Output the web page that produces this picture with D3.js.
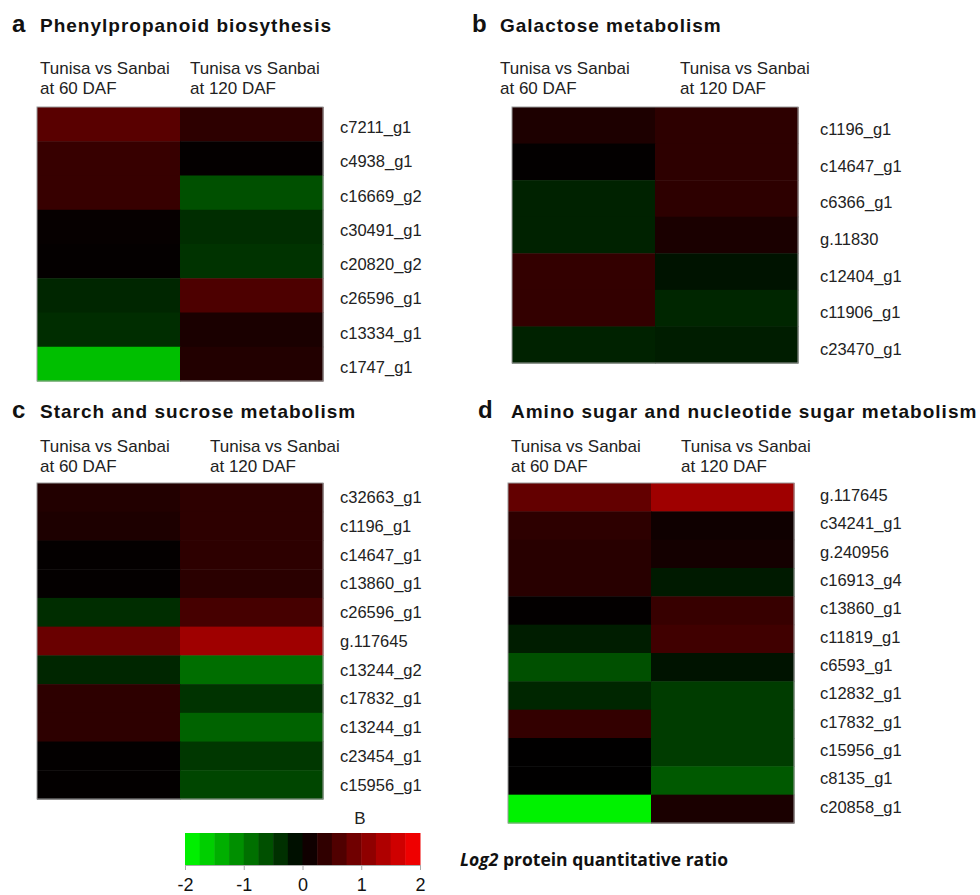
<!DOCTYPE html>
<html>
<head>
<meta charset="utf-8">
<script src="https://cdn.jsdelivr.net/npm/d3@7"></script>
<style>
  html, body { margin: 0; padding: 0; background: #fff; }
  svg { display: block; }
</style>
</head>
<body>
<svg id="chart" width="980" height="895"></svg>
<script>
// ---------------- DATA ----------------
const columns = ["Tunisa vs Sanbai\nat 60 DAF", "Tunisa vs Sanbai\nat 120 DAF"];

const genesA = ["c7211_g1","c4938_g1","c16669_g2","c30491_g1","c20820_g2","c26596_g1","c13334_g1","c1747_g1"];
const dafA60  = [0.70, 0.43, 0.43, 0.05, 0.03, -0.30, -0.35, -1.50];
const dafA120 = [0.35, 0.03, -0.63, -0.35, -0.40, 0.60, 0.20, 0.27];

const genesB = ["c1196_g1","c14647_g1","c6366_g1","g.11830","c12404_g1","c11906_g1","c23470_g1"];
const dafB60  = [0.23, 0.02, -0.27, -0.27, 0.40, 0.40, -0.27];
const dafB120 = [0.35, 0.35, 0.35, 0.20, -0.15, -0.30, -0.23];

const genesC = ["c32663_g1","c1196_g1","c14647_g1","c13860_g1","c26596_g1","g.117645","c13244_g2","c17832_g1","c13244_g1","c23454_g1","c15956_g1"];
const dafC60  = [0.27, 0.23, 0.03, 0.03, -0.35, 0.82, -0.30, 0.35, 0.35, 0.02, 0.02];
const dafC120 = [0.35, 0.35, 0.35, 0.33, 0.55, 1.25, -0.86, -0.40, -0.78, -0.43, -0.55];

const genesD = ["g.117645","c34241_g1","g.240956","c16913_g4","c13860_g1","c11819_g1","c6593_g1","c12832_g1","c17832_g1","c15956_g1","c8135_g1","c20858_g1"];
const dafD60  = [0.78, 0.35, 0.31, 0.31, 0.02, -0.23, -0.63, -0.30, 0.40, 0.01, 0.01, -1.90];
const dafD120 = [1.25, 0.12, 0.16, -0.20, 0.43, 0.50, -0.15, -0.47, -0.47, -0.47, -0.70, 0.20];

const panelLetters = ["a", "b", "c", "d"];
const panelTitles = ["Phenylpropanoid biosythesis", "Galactose metabolism", "Starch and sucrose metabolism", "Amino sugar and nucleotide sugar metabolism"];

const legendTicks = [-2, -1, 0, 1, 2];
const legendSteps = 16;
const legendTitle = "B";
const legendNote = ["Log2", " protein quantitative ratio"];

// ---------------- DRAW ----------------
const svg = d3.select("#chart");
svg.append("rect").attr("width", 980).attr("height", 895).attr("fill", "#fff");

const color = d3.scaleLinear()
  .domain([-2, 0, 2])
  .range(["#00ff00", "#000000", "#ff0000"])
  .clamp(true);

const panels = [
  { genes: genesA, v60: dafA60, v120: dafA120, x0: 37,  x1: 323, y0: 107, y1: 381, letterX: 12,  titleX: 40,  titleY: 32,  headY: 74,  headX: [40, 190],  labelX: 340, labelDy: 3 },
  { genes: genesB, v60: dafB60, v120: dafB120, x0: 512, x1: 798, y0: 107, y1: 363, letterX: 472, titleX: 500, titleY: 32,  headY: 74,  headX: [500, 680], labelX: 820, labelDy: 4 },
  { genes: genesC, v60: dafC60, v120: dafC120, x0: 37,  x1: 323, y0: 483, y1: 799, letterX: 12,  titleX: 40,  titleY: 418, headY: 452, headX: [40, 210],  labelX: 340, labelDy: 0 },
  { genes: genesD, v60: dafD60, v120: dafD120, x0: 508, x1: 794, y0: 483, y1: 823, letterX: 478, titleX: 511, titleY: 418, headY: 452, headX: [511, 681], labelX: 820, labelDy: -2 }
];

panels.forEach((p, i) => {
  const g = svg.append("g");

  // panel letter + title
  g.append("text")
    .attr("x", p.letterX).attr("y", p.titleY)
    .attr("font-family", "Liberation Sans, Arial, sans-serif")
    .attr("font-weight", "bold").attr("font-size", 24)
    .attr("fill", "#111")
    .text(panelLetters[i]);
  g.append("text")
    .attr("x", p.titleX).attr("y", p.titleY)
    .attr("font-family", "Liberation Sans, Arial, sans-serif")
    .attr("font-weight", "bold").attr("font-size", 19)
    .attr("letter-spacing", 1.0)
    .attr("fill", "#111")
    .text(panelTitles[i]);

  // column headers
  columns.forEach((c, ci) => {
    const lines = c.split("\n");
    const t = g.append("text")
      .attr("x", p.headX[ci]).attr("y", p.headY)
      .attr("font-family", "Liberation Sans, Arial, sans-serif")
      .attr("font-size", 17).attr("fill", "#222");
    lines.forEach((ln, li) => {
      t.append("tspan").attr("x", p.headX[ci]).attr("dy", li === 0 ? 0 : 19.5).text(ln);
    });
  });

  const x = d3.scaleBand().domain(d3.range(columns.length)).range([p.x0, p.x1]);
  const y = d3.scaleBand().domain(p.genes).range([p.y0, p.y1]);

  const cells = [];
  p.genes.forEach((gene, ri) => {
    cells.push({ gene, col: 0, v: p.v60[ri] });
    cells.push({ gene, col: 1, v: p.v120[ri] });
  });

  g.selectAll("rect.cell").data(cells).enter().append("rect")
    .attr("class", "cell")
    .attr("x", d => x(d.col))
    .attr("y", d => y(d.gene))
    .attr("width", x.bandwidth() + 0.5)
    .attr("height", y.bandwidth() + 0.5)
    .attr("fill", d => color(d.v));

  g.append("rect")
    .attr("x", p.x0).attr("y", p.y0)
    .attr("width", p.x1 - p.x0).attr("height", p.y1 - p.y0)
    .attr("fill", "none").attr("stroke", "#9a9a9a").attr("stroke-width", 1);

  // gene labels
  g.selectAll("text.gene").data(p.genes).enter().append("text")
    .attr("class", "gene")
    .attr("x", p.labelX)
    .attr("y", d => y(d) + y.bandwidth() / 2 + p.labelDy)
    .attr("dy", "0.36em")
    .attr("font-family", "Liberation Sans, Arial, sans-serif")
    .attr("font-size", 16.5).attr("fill", "#222")
    .text(d => d);
});

// ---------------- LEGEND ----------------
const lx0 = 185, lx1 = 420, ly0 = 833, ly1 = 865;
const lscale = d3.scaleLinear().domain([-2, 2]).range([lx0, lx1]);
const stepW = 4 / legendSteps;
const steps = d3.range(legendSteps).map(k => -2 + k * stepW);

svg.append("g").selectAll("rect").data(steps).enter().append("rect")
  .attr("x", d => lscale(d))
  .attr("y", ly0)
  .attr("width", lscale(stepW) - lscale(0) + 0.5)
  .attr("height", ly1 - ly0)
  .attr("fill", d => color(d + stepW / 2));

const axis = d3.axisBottom(lscale).tickValues(legendTicks).tickSize(5).tickFormat(d3.format("d"));
const ag = svg.append("g").attr("transform", `translate(0,${ly1})`).call(axis);
ag.select(".domain").attr("stroke", "#aaa");
ag.selectAll(".tick line").attr("stroke", "#aaa");
ag.selectAll(".tick text")
  .attr("font-family", "Liberation Sans, Arial, sans-serif")
  .attr("font-size", 18).attr("fill", "#111").attr("dy", "1.0em")
  .text(d => d < 0 ? "-" + Math.abs(d) : d);

svg.append("text")
  .attr("x", 360).attr("y", 824)
  .attr("text-anchor", "middle")
  .attr("font-family", "Liberation Sans, Arial, sans-serif")
  .attr("font-size", 17).attr("fill", "#222")
  .text(legendTitle);

const note = svg.append("text")
  .attr("x", 460).attr("y", 866)
  .attr("font-family", "Open Sans, sans-serif")
  .attr("font-weight", "bold").attr("font-size", 17.5).attr("fill", "#111");
note.append("tspan").attr("font-style", "italic").text(legendNote[0]);
note.append("tspan").text(legendNote[1]);
</script>
</body>
</html>
